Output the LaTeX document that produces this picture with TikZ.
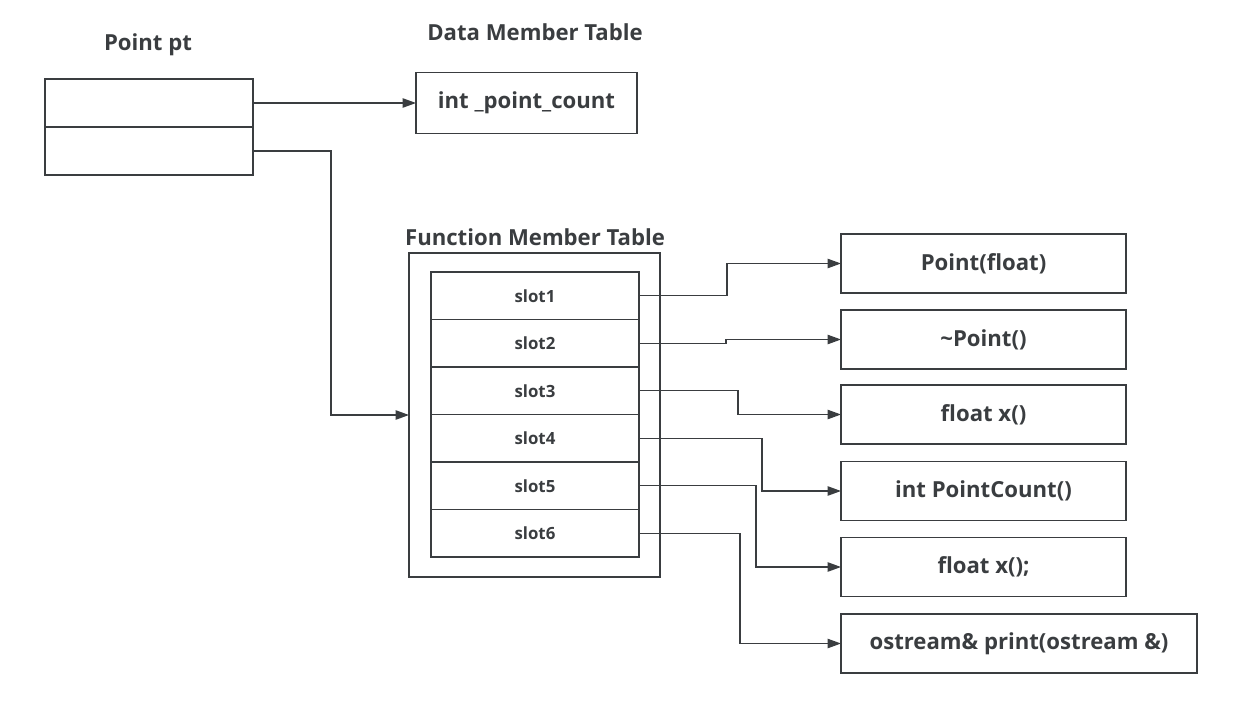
\documentclass[tikz,border=0pt]{standalone}
\usepackage{fontspec}
\setmainfont{Open Sans}
\usetikzlibrary{arrows.meta,positioning}
\definecolor{ink}{HTML}{3A3D40}
\newcommand{\pxu}{0.75pt}

\begin{document}
\begin{tikzpicture}[
  x=0.75pt, y=-0.75pt,
  font=\bfseries\fontsize{16.6}{20}\selectfont, text=ink,
  box/.style={draw=ink,line width=1.2pt,outer sep=0pt,inner sep=0pt,align=center},
  ptcell/.style={box,minimum width=208*\pxu,minimum height=48*\pxu},
  slot/.style={box,minimum width=208*\pxu,minimum height=47.5*\pxu,font=\bfseries\fontsize{12.6}{15}\selectfont},
  fbox/.style={box,anchor=west,minimum width=285*\pxu,minimum height=59*\pxu},
  ttl/.style={font=\bfseries\fontsize{16.6}{20}\selectfont},
  ar/.style={-{Triangle[length=10pt,width=7pt]},draw=ink,line width=1pt}
]
\useasboundingbox (0,0) rectangle (1234,721);

% object and its two pointers
\node[ttl] (ptT) at (148,45) {Point pt};
\node[ptcell] (ptA) at (149,103) {};
\node[ptcell,below=0pt of ptA] (ptB) {};

% data member table
\node[ttl] (dataT) at (535,32) {Data Member Table};
\node[box,minimum width=221*\pxu,minimum height=61*\pxu] (data) at (526.5,103) {int \_point\_count};

% function member table
\node[ttl] (fmtT) at (535,237) {Function Member Table};
\node[box,minimum width=251*\pxu,minimum height=324*\pxu] (fmt) at (534.5,415) {};
\node[slot] (s1) at (535,295.75) {slot1};
\node[slot,below=0pt of s1] (s2) {slot2};
\node[slot,below=0pt of s2] (s3) {slot3};
\node[slot,below=0pt of s3] (s4) {slot4};
\node[slot,below=0pt of s4] (s5) {slot5};
\node[slot,below=0pt of s5] (s6) {slot6};

% functions
\node[fbox] (f1) at (841,263.5) {Point(float)};
\node[fbox] (f2) at (841,339.5) {\textasciitilde Point()};
\node[fbox] (f3) at (841,414.5) {float x()};
\node[fbox] (f4) at (841,491) {int PointCount()};
\node[fbox] (f5) at (841,567) {float x();};
\node[fbox,minimum width=356*\pxu] (f6) at (841,643.5) {ostream\& print(ostream \&)};

\draw[ar] (ptA) -- (data);
\draw[ar] (ptB.east) -- ++(78,0) |- (fmt.west);

\draw[ar] (s1.east) -- ++(88,0) |- (f1.west);
\draw[ar] (s2.east) -- ++(87,0) |- (f2.west);
\draw[ar] (s3.east) -- ++(99,0) |- (f3.west);
\draw[ar] (s4.east) -- ++(123,0) |- (f4.west);
\draw[ar] (s5.east) -- ++(117,0) |- (f5.west);
\draw[ar] (s6.east) -- ++(101,0) |- (f6.west);
\end{tikzpicture}
\end{document}
